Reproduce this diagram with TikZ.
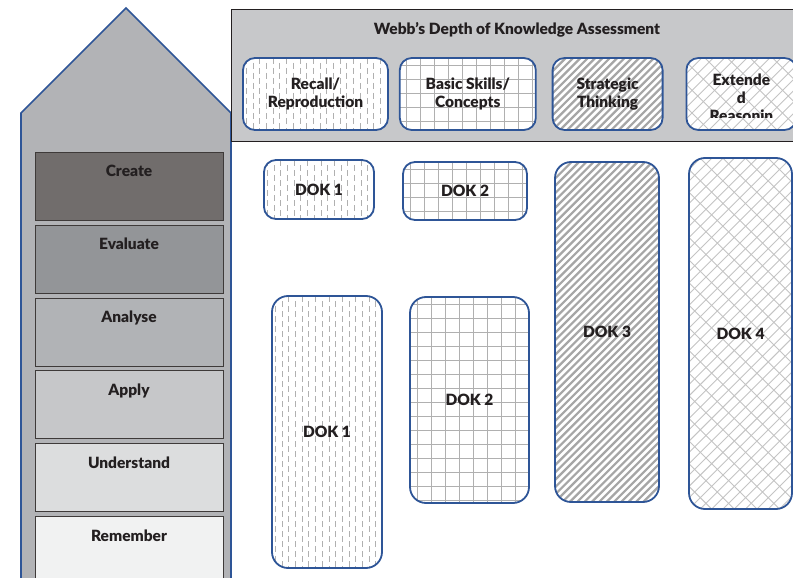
\documentclass[tikz,border=0pt]{standalone}
\usepackage{fontspec}
\setsansfont{Lato}[BoldFont={Lato Black}]
\usetikzlibrary{positioning}
\definecolor{houseblue}{HTML}{2E5597}
\definecolor{housegray}{HTML}{B2B3B6}
\definecolor{headgray}{HTML}{C7C8CA}
\definecolor{inkdark}{HTML}{231F20}
\definecolor{levelline}{HTML}{3E3A39}
\definecolor{createfill}{HTML}{716D6C}
\definecolor{evaluatefill}{HTML}{939598}
\definecolor{analysefill}{HTML}{B1B3B6}
\definecolor{applyfill}{HTML}{C6C7C9}
\definecolor{understandfill}{HTML}{DCDDDE}
\definecolor{rememberfill}{HTML}{F1F2F2}
\definecolor{patgray}{HTML}{B0B0B0}
\definecolor{stripegray}{HTML}{A6A6A6}
\definecolor{brickgray}{HTML}{C4C4C4}

\tikzset{%
  % Fill patterns of the four DOK levels:
        dashFill/.style = {path picture={
                           \foreach \col in {3.35,16.75,...,150} {
                             \draw[patgray, line width=0.8pt, dash pattern=on 6pt off 4pt]
                               ([xshift=\col pt]path picture bounding box.north west) --
                               ([xshift=\col pt]path picture bounding box.south west);
                             \draw[patgray, line width=0.8pt, dash pattern=on 6pt off 4pt,
                               dash phase=5pt]
                               ([xshift=\col pt+6.7pt]path picture bounding box.north west) --
                               ([xshift=\col pt+6.7pt]path picture bounding box.south west);
                           }}},
        gridFill/.style = {path picture={
                           \foreach \col in {7,21,...,360} {
                             \draw[patgray, line width=0.9pt]
                               ([xshift=\col pt]path picture bounding box.north west) --
                               ([xshift=\col pt]path picture bounding box.south west)
                               ([yshift=-\col pt]path picture bounding box.north west) --
                               ([yshift=-\col pt]path picture bounding box.north east);
                           }}},
      stripeFill/.style = {path picture={
                           \foreach \row in {-50,...,18}
                             \draw[stripegray, line width=2.2pt]
                               ([xshift=\row*7.35pt]path picture bounding box.south west)
                               -- ++(400pt,400pt);
                           }},
       brickFill/.style = {path picture={
                           \foreach \row in {-32,...,10} {
                             \draw[brickgray, line width=0.9pt]
                               ([xshift=\row*11.314pt]path picture bounding box.south west)
                               -- ++(400pt,400pt)
                               \foreach \col in {0,...,35} {
                                 ([xshift={\row*11.314pt+\col*11.314pt+mod(\row,2)*5.657pt},
                                   yshift={\col*11.314pt+mod(\row,2)*5.657pt}]path picture bounding box.south west)
                                 -- ++(-5.657pt,5.657pt)
                               };
                           }}},
  % Specifications for style of nodes:
            base/.style = {rectangle, rounded corners=12pt, draw=houseblue,
                           line width=1.8pt, fill=white,
                           text=inkdark, align=center, inner sep=2pt,
                           font=\sffamily\bfseries\fontsize{15.5}{18}\selectfont},
       recallBox/.style = {base, dashFill},
        basicBox/.style = {base, gridFill},
    strategicBox/.style = {base, stripeFill},
     extendedBox/.style = {base, brickFill},
         tallBox/.style = {rounded corners=16pt},
      bloomLevel/.style 2 args = {rectangle, draw=levelline, line width=0.8pt,
                           fill=#1, minimum width=188pt, minimum height=68pt,
                           label={[anchor=north, yshift=-10pt, text=inkdark,
                           font=\sffamily\bfseries\fontsize{15.5}{18}\selectfont]north:#2}},
}

\begin{document}
\begin{tikzpicture}[x=1pt, y=-1pt, node distance=4pt,
  every node/.style={font=\sffamily\bfseries}, align=center]
  \clip (0,0) rectangle (793,578);

  % House with the Bloom levels
  \draw[fill=housegray, draw=houseblue, line width=1.6pt]
    (126,8) -- (231,113) -- (231,600) -- (21,600) -- (21,113) -- cycle;

  \node (create)     [bloomLevel={createfill}{Create}, anchor=north] at (129,152) {};
  \node (evaluate)   [bloomLevel={evaluatefill}{Evaluate}, below=of create] {};
  \node (analyse)    [bloomLevel={analysefill}{Analyse}, below=of evaluate] {};
  \node (apply)      [bloomLevel={applyfill}{Apply}, below=of analyse] {};
  \node (understand) [bloomLevel={understandfill}{Understand}, below=of apply] {};
  \node (remember)   [bloomLevel={rememberfill}{Remember}, below=of understand] {};

  % Header of the DOK assessment
  \draw[fill=headgray, draw=inkdark, line width=1pt] (231.5,10) rectangle (800,141);
  \node (title) [text=inkdark, font=\sffamily\bfseries\fontsize{15.5}{18}\selectfont]
    at (517,30) {Webb’s Depth of Knowledge Assessment};

  % Specification of nodes (position, etc.)
  \node (recallBlock)    [recallBox, minimum width=145pt, minimum height=72pt]
    at (315.5,94) {Recall/\\Reproduction};
  \node (basicBlock)     [basicBox, minimum width=136pt, minimum height=72pt,
    right=10pt of recallBlock] {Basic Skills/\\Concepts};
  \node (strategicBlock) [strategicBox, minimum width=110pt, minimum height=72pt,
    right=15pt of basicBlock] {Strategic\\Thinking};
  \node (extendedBlock)  [extendedBox, minimum width=110pt, minimum height=72pt,
    right=22pt of strategicBlock] {};
  \begin{scope}
    \clip (extendedBlock.north west) rectangle ([yshift=13pt]extendedBlock.south east);
    \node (extendedText) [text=inkdark, font=\sffamily\bfseries\fontsize{15.5}{18}\selectfont]
      at ([yshift=-4pt]extendedBlock.center) {Extende\\d\\Reasonin};
  \end{scope}

  \node (dokOneTop)  [recallBox, minimum width=110pt, minimum height=59pt]
    at (319,189.5) {DOK 1};
  \node (dokTwoTop)  [basicBox, minimum width=124pt, minimum height=58pt]
    at (465,191) {DOK 2};
  \node (dokOneLow)  [recallBox, tallBox, minimum width=110pt, minimum height=272pt]
    at (327,432) {DOK 1};
  \node (dokTwoLow)  [basicBox, tallBox, minimum width=119pt, minimum height=206pt]
    at (469.5,400) {DOK 2};
  \node (dokThree)   [strategicBox, tallBox, minimum width=104pt, minimum height=340pt]
    at (607,332) {DOK 3};
  \node (dokFour)    [extendedBox, tallBox, minimum width=103pt, minimum height=351pt]
    at (740.5,333.5) {DOK 4};
\end{tikzpicture}
\end{document}
